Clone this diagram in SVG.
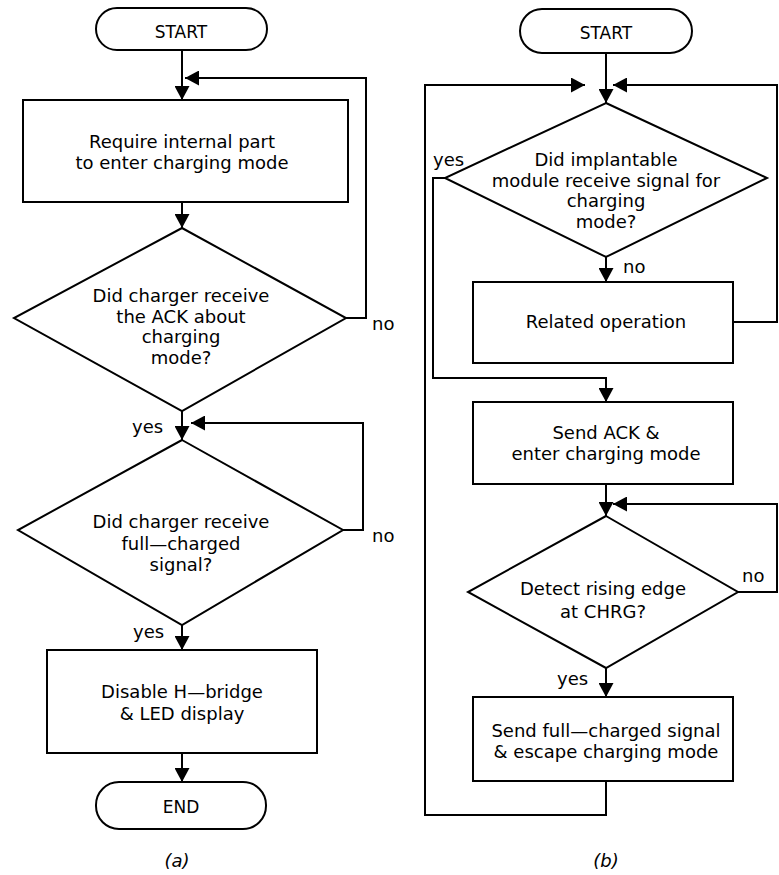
<svg xmlns="http://www.w3.org/2000/svg" width="779" height="875" viewBox="0 0 779 875">
<style>
.s{fill:#fff;stroke:#000;stroke-width:2}
.c{fill:none;stroke:#000;stroke-width:2}
text{font-family:"DejaVu Sans","Liberation Sans",sans-serif;font-size:18px;fill:#000}
.m{text-anchor:middle}
.t{font-size:17px}
.cap{font-style:italic}
</style>
<defs>
<marker id="ah" markerUnits="userSpaceOnUse" markerWidth="14" markerHeight="15" refX="14" refY="7.5" orient="auto" viewBox="0 0 14 15">
<path d="M0,0 L14,7.5 L0,15 z" fill="#000"/>
</marker>
</defs>
<rect width="779" height="875" fill="#fff"/>
<g id="connectors">
<path class="c" d="M182,50 V100" marker-end="url(#ah)"/>
<path class="c" d="M346,318 H366 V78 H185" marker-end="url(#ah)"/>
<path class="c" d="M182,202 V228" marker-end="url(#ah)"/>
<path class="c" d="M182,411 V440" marker-end="url(#ah)"/>
<path class="c" d="M343,530 H363 V423 H191" marker-end="url(#ah)"/>
<path class="c" d="M182,625 V650" marker-end="url(#ah)"/>
<path class="c" d="M182,753 V782" marker-end="url(#ah)"/>
<path class="c" d="M606,53 V103" marker-end="url(#ah)"/>
<path class="c" d="M606,781 V815 H425 V85 H585" marker-end="url(#ah)"/>
<path class="c" d="M733,322 H777 V85 H613" marker-end="url(#ah)"/>
<path class="c" d="M606,257 V282" marker-end="url(#ah)"/>
<path class="c" d="M445,178 H433 V378 H606 V402" marker-end="url(#ah)"/>
<path class="c" d="M606,484 V516" marker-end="url(#ah)"/>
<path class="c" d="M738,592 H777 V504 H613" marker-end="url(#ah)"/>
<path class="c" d="M606,668 V697" marker-end="url(#ah)"/>
</g>
<g id="a-start"><rect class="s" x="96" y="8" width="171" height="42" rx="21"/><text class="m t" x="181" y="38">START</text></g>
<g id="a-require"><rect class="s" x="23" y="100" width="325" height="102"/><text class="m" x="182" y="148">Require internal part</text><text class="m" x="182" y="169">to enter charging mode</text></g>
<g id="a-ack"><polygon class="s" points="182,228 346,318 182,411 14,318"/><text class="m" x="181" y="302">Did charger receive</text><text class="m" x="181" y="323">the ACK about</text><text class="m" x="181" y="343">charging</text><text class="m" x="181" y="364">mode?</text><text x="372" y="330">no</text><text x="132" y="433">yes</text></g>
<g id="a-full"><polygon class="s" points="182,440 343,530 182,625 18,530"/><text class="m" x="181" y="528">Did charger receive</text><text class="m" x="181" y="550">full—charged</text><text class="m" x="181" y="571">signal?</text><text x="372" y="542">no</text><text x="133" y="638">yes</text></g>
<g id="a-disable"><rect class="s" x="47" y="650" width="270" height="103"/><text class="m" x="182" y="698">Disable H—bridge</text><text class="m" x="182" y="720">&amp; LED display</text></g>
<g id="a-end"><rect class="s" x="96" y="782" width="170" height="47" rx="23"/><text class="m t" x="181" y="813">END</text></g>
<text class="m cap" x="177" y="867">(a)</text>
<g id="b-start"><rect class="s" x="520" y="9" width="172" height="44" rx="22"/><text class="m t" x="606" y="39">START</text></g>
<g id="b-signal"><polygon class="s" points="606,103 767,178 606,257 445,178"/><text class="m" x="606" y="166">Did implantable</text><text class="m" x="606" y="187">module receive signal for</text><text class="m" x="606" y="207">charging</text><text class="m" x="606" y="228">mode?</text><text x="433" y="166">yes</text><text x="623" y="273">no</text></g>
<g id="b-related"><rect class="s" x="473" y="282" width="260" height="81"/><text class="m" x="606" y="328">Related operation</text></g>
<g id="b-sendack"><rect class="s" x="473" y="402" width="260" height="82"/><text class="m" x="606" y="439">Send ACK &amp;</text><text class="m" x="606" y="460">enter charging mode</text></g>
<g id="b-detect"><polygon class="s" points="606,516 738,592 606,668 468,592"/><text class="m" x="603" y="595">Detect rising edge</text><text class="m" x="603" y="618">at CHRG?</text><text x="742" y="582">no</text><text x="557" y="685">yes</text></g>
<g id="b-sendfull"><rect class="s" x="473" y="697" width="260" height="84"/><text class="m" x="606" y="737">Send full—charged signal</text><text class="m" x="606" y="758">&amp; escape charging mode</text></g>
<text class="m cap" x="606" y="867">(b)</text>
</svg>
